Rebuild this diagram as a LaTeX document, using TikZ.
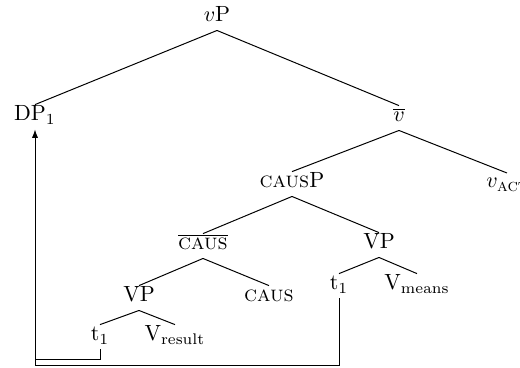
\documentclass[tikz,border=0pt]{standalone}
\usetikzlibrary{arrows.meta}
\begin{document}
\begin{tikzpicture}[x=0.4545pt,y=-0.4545pt,
  lab/.style={anchor=base,inner sep=0.45pt,text height=6.8pt,text depth=3.2pt},
  edge/.style={line width=0.45pt},
  trace/.style={line width=0.45pt}]
\clip (0,0) rectangle (520,368);
\node[lab] (vP) at (217,22) {$v$P};
\node[lab] (DP) at (35,121) {DP$_1$};
\node[lab] (vbar) at (399,122) {$\overline{v}$};
\node[lab] (causP) at (292,188) {\textsc{caus}P};
\node[lab,anchor=base west] (vact) at (485,188) {$v_{\mbox{\footnotesize\textsc{act}}}$};
\node[lab] (causbar) at (203,250) {$\overline{\mbox{\textsc{caus}}}$};
\node[lab] (VPr) at (379,249) {VP};
\node[lab] (t1r) at (339,290) {t$_1$};
\node[lab] (Vmeans) at (417,290) {V$_{\mathrm{means}}$};
\node[lab] (VPl) at (139,302) {VP};
\node[lab] (caus) at (269,302) {\textsc{caus}};
\node[lab] (t1l) at (100,341) {t$_1$};
\node[lab] (Vresult) at (175,341) {V$_{\mathrm{result}}$};
\coordinate (vactTop) at (507,173);
\draw[edge] (vP.south) -- (DP.north);
\draw[edge] (vP.south) -- (vbar.north);
\draw[edge] (vbar.south) -- (causP.north);
\draw[edge] (vbar.south) -- (vactTop);
\draw[edge] (causP.south) -- (causbar.north);
\draw[edge] (causP.south) -- (VPr.north);
\draw[edge] (causbar.south) -- (VPl.north);
\draw[edge] (causbar.south) -- (caus.north);
\draw[edge] (VPr.south) -- (t1r.north);
\draw[edge] (VPr.south) -- (Vmeans.north);
\draw[edge] (VPl.south) -- (t1l.north);
\draw[edge] (VPl.south) -- (Vresult.north);
\coordinate (m1) at (35,359);
\coordinate (m2) at (35,365);
\draw[trace] (t1l.south) |- (m1);
\draw[trace,-{Latex[length=3.8pt,width=2.8pt]}] (t1r.south) |- (m2) -- (DP.south);
\end{tikzpicture}
\end{document}
